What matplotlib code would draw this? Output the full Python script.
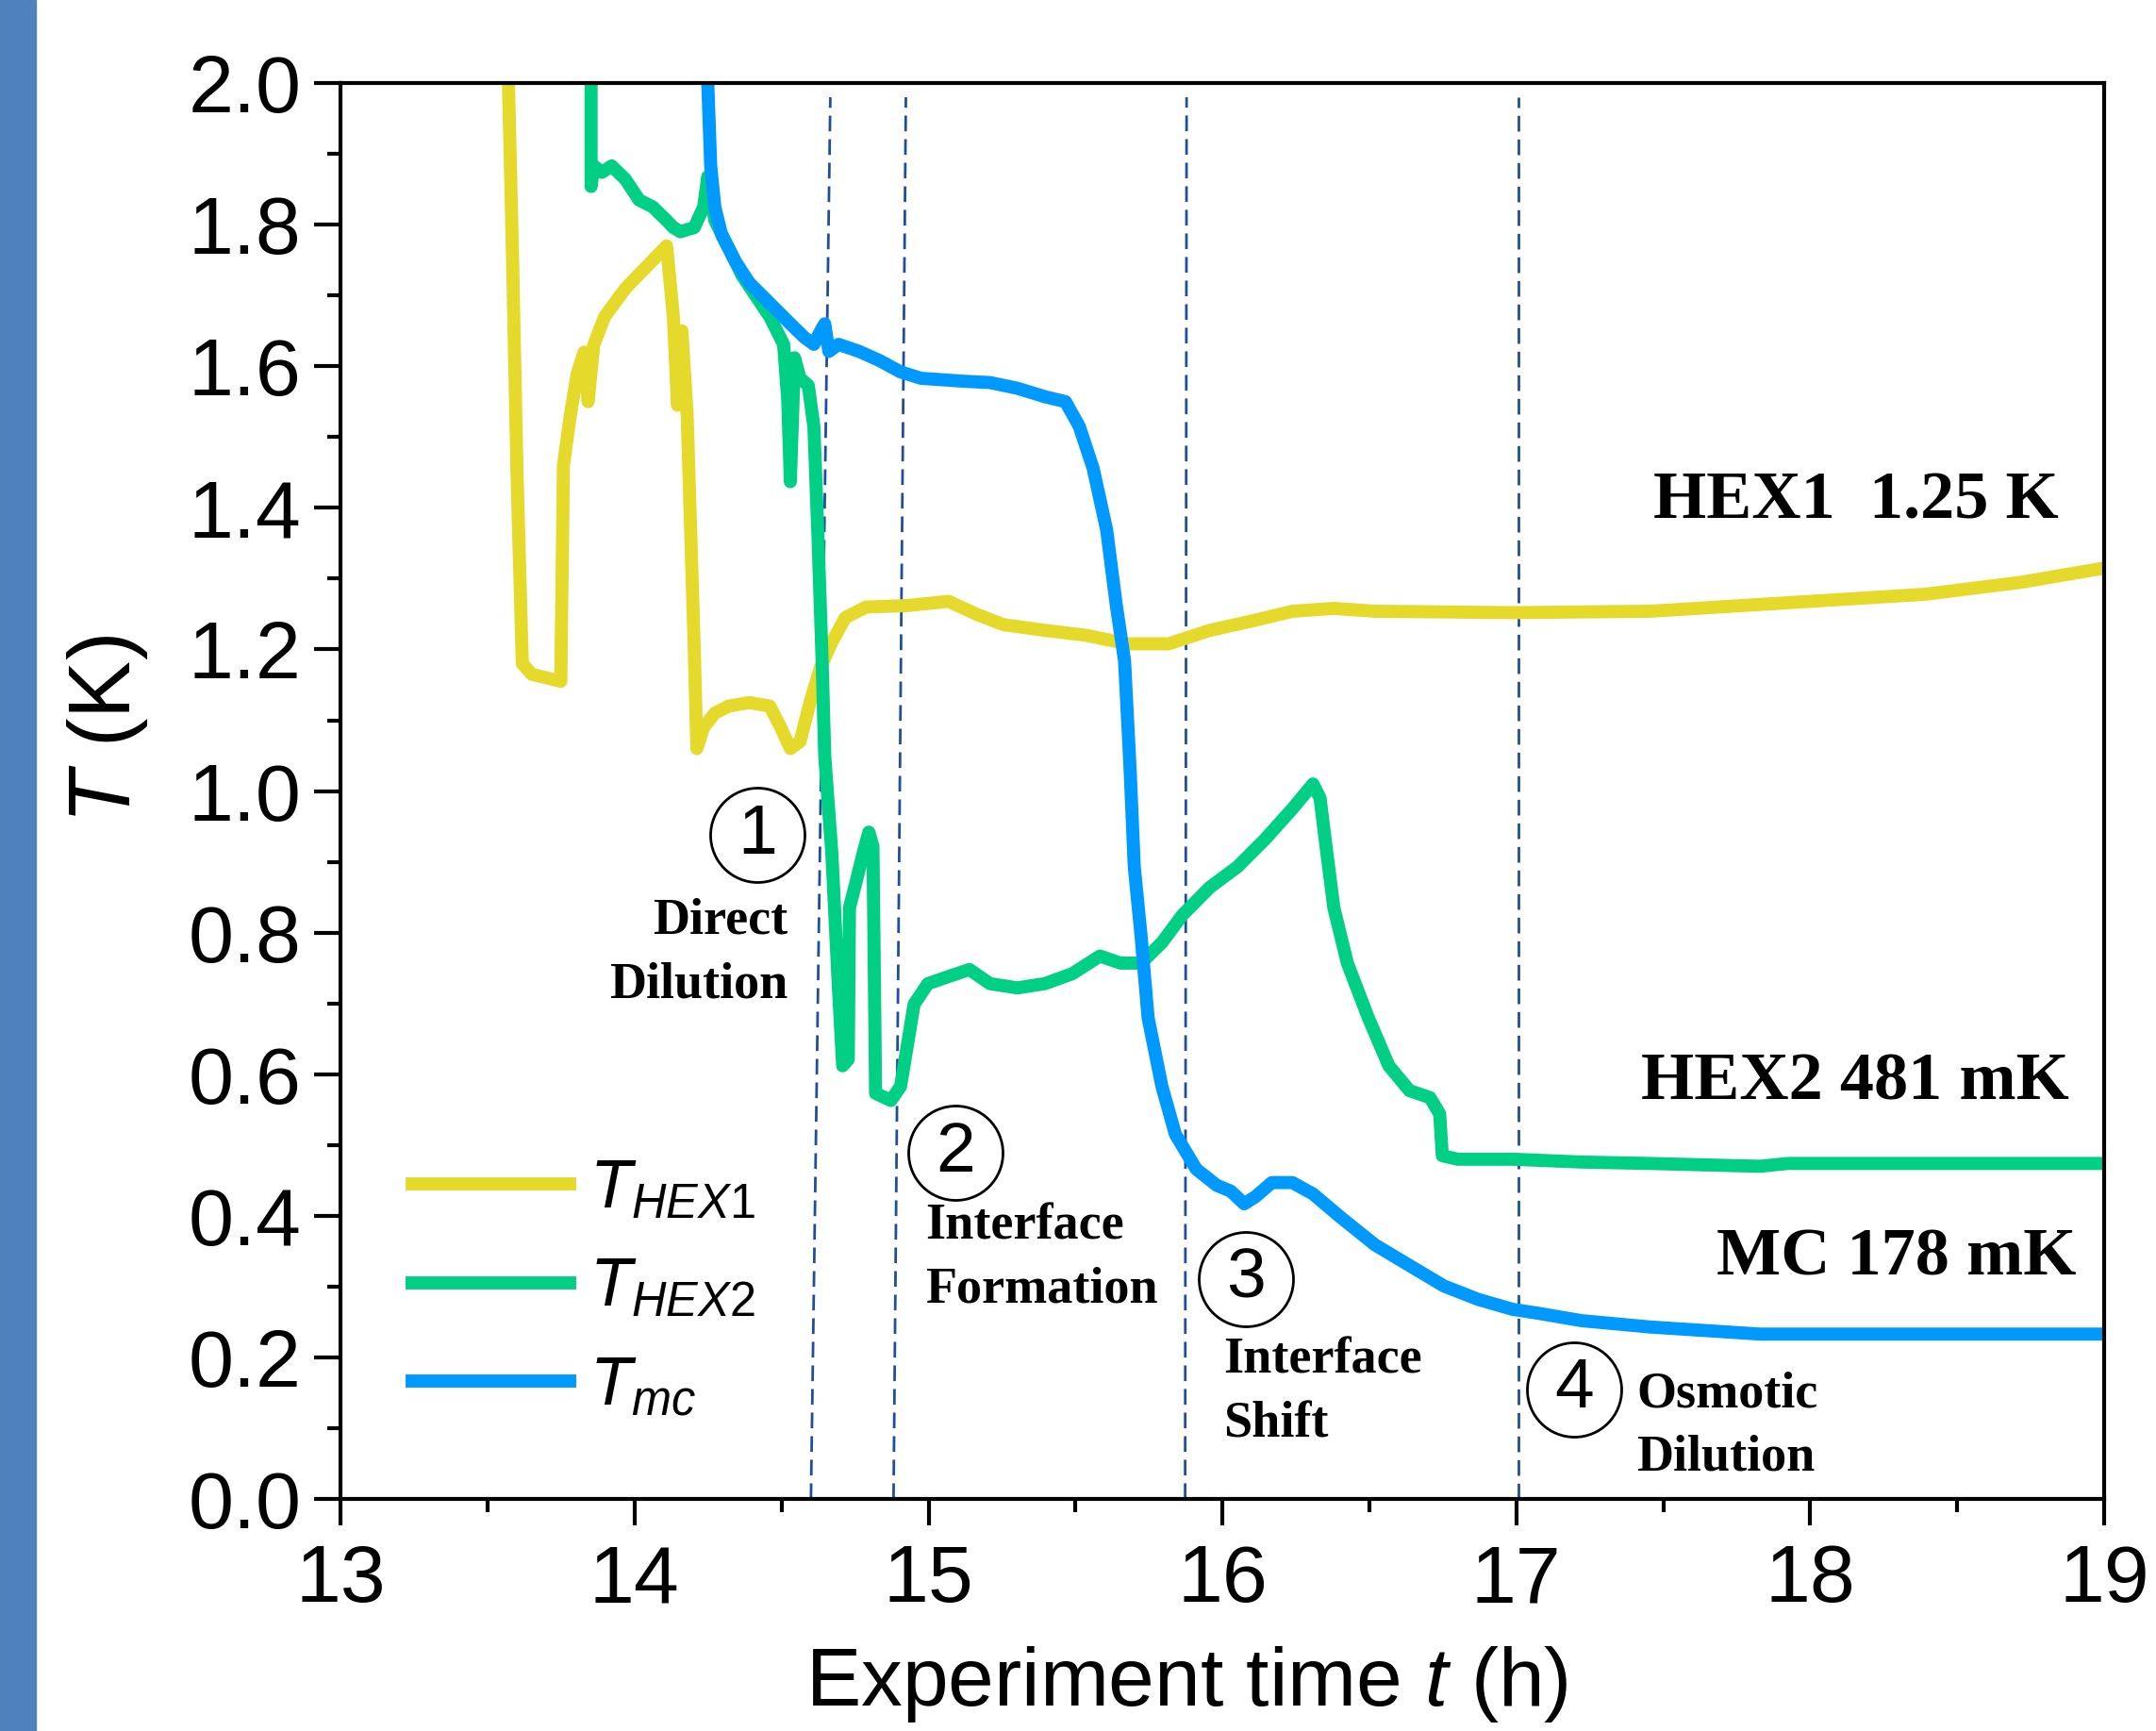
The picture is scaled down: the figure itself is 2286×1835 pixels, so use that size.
import matplotlib
matplotlib.use("Agg")
import matplotlib.pyplot as plt
from matplotlib.ticker import MultipleLocator
from matplotlib.patches import Rectangle

plt.rcParams['font.family'] = ['Liberation Sans', 'DejaVu Sans']
plt.rcParams['mathtext.fontset'] = 'custom'
plt.rcParams['mathtext.rm'] = 'Liberation Sans'
plt.rcParams['mathtext.it'] = 'Liberation Sans:italic'

# ---- data ----
t_hex1 = [13.571, 13.585, 13.60, 13.618, 13.65, 13.70, 13.749, 13.758, 13.781, 13.805, 13.828,
          13.842, 13.861, 13.898, 13.969, 14.039, 14.109, 14.132, 14.146, 14.161, 14.179, 14.203,
          14.212, 14.235, 14.273, 14.32, 14.39, 14.46, 14.497, 14.53, 14.563, 14.60, 14.633,
          14.671, 14.717, 14.788, 14.928, 15.068, 15.162, 15.255, 15.396, 15.536, 15.677,
          15.817, 15.957, 16.098, 16.238, 16.379, 16.519, 16.987, 17.455, 17.923, 18.391,
          18.718, 19.0]
T_hex1 = [2.0, 1.75, 1.45, 1.18, 1.165, 1.16, 1.155, 1.46, 1.53, 1.59, 1.62,
          1.55, 1.63, 1.67, 1.71, 1.74, 1.77, 1.67, 1.545, 1.65, 1.53, 1.20,
          1.06, 1.09, 1.11, 1.12, 1.125, 1.12, 1.09, 1.06, 1.07, 1.13, 1.175,
          1.21, 1.245, 1.26, 1.262, 1.268, 1.25, 1.235, 1.227, 1.22, 1.208,
          1.208, 1.227, 1.24, 1.254, 1.258, 1.254, 1.252, 1.254, 1.266, 1.278,
          1.295, 1.315]

t_hex2 = [13.852, 13.852, 13.861, 13.889, 13.922, 13.969, 14.015, 14.062, 14.109, 14.132, 14.156,
          14.203, 14.235, 14.249, 14.273, 14.320, 14.366, 14.413, 14.460, 14.507, 14.521, 14.530,
          14.544, 14.563, 14.591, 14.610, 14.624, 14.638, 14.647, 14.671, 14.694, 14.708,
          14.727, 14.731, 14.755, 14.778, 14.797, 14.811, 14.820, 14.872, 14.905, 14.928,
          14.951, 14.998, 15.068, 15.139, 15.209, 15.302, 15.396, 15.489, 15.583, 15.653,
          15.723, 15.794, 15.864, 15.957, 16.051, 16.145, 16.238, 16.308, 16.332, 16.355,
          16.379, 16.425, 16.496, 16.566, 16.636, 16.706, 16.739, 16.748, 16.800, 16.987,
          17.221, 17.455, 17.829, 17.923, 18.391, 19.0]
T_hex2 = [2.0, 1.854, 1.883, 1.874, 1.883, 1.864, 1.835, 1.825, 1.806, 1.796, 1.790,
          1.796, 1.825, 1.868, 1.806, 1.767, 1.728, 1.699, 1.670, 1.631, 1.553, 1.437,
          1.612, 1.583, 1.573, 1.515, 1.359, 1.184, 1.049, 0.913, 0.718, 0.612,
          0.621, 0.835, 0.874, 0.913, 0.942, 0.922, 0.573, 0.563, 0.583, 0.641,
          0.699, 0.728, 0.738, 0.748, 0.728, 0.722, 0.728, 0.742, 0.767, 0.757,
          0.757, 0.786, 0.825, 0.864, 0.893, 0.932, 0.975, 1.010, 0.990, 0.913,
          0.835, 0.757, 0.680, 0.612, 0.577, 0.567, 0.544, 0.485, 0.480, 0.480,
          0.476, 0.474, 0.470, 0.474, 0.474, 0.474]

t_mc = [14.249, 14.259, 14.273, 14.296, 14.343, 14.390, 14.460, 14.530, 14.577, 14.610, 14.633,
        14.647, 14.661, 14.694, 14.764, 14.834, 14.905, 14.975, 15.115, 15.209, 15.302,
        15.396, 15.466, 15.513, 15.560, 15.606, 15.639, 15.667, 15.686, 15.700, 15.723,
        15.747, 15.794, 15.840, 15.911, 15.981, 16.028, 16.074, 16.112, 16.168, 16.238,
        16.308, 16.402, 16.519, 16.636, 16.753, 16.870, 16.987, 17.080, 17.221, 17.455,
        17.829, 18.391, 19.0]
T_mc = [2.0, 1.883, 1.825, 1.786, 1.748, 1.718, 1.689, 1.660, 1.641, 1.631, 1.650,
        1.660, 1.621, 1.631, 1.621, 1.608, 1.592, 1.583, 1.579, 1.577, 1.569,
        1.557, 1.550, 1.515, 1.456, 1.369, 1.262, 1.184, 1.029, 0.893, 0.796,
        0.680, 0.583, 0.515, 0.466, 0.443, 0.435, 0.417, 0.427, 0.447, 0.447,
        0.431, 0.398, 0.359, 0.330, 0.301, 0.282, 0.268, 0.262, 0.252, 0.243,
        0.233, 0.233, 0.233]

# dashed stage boundaries (bottom x, top x)
stage_bottom = [14.60, 14.881, 15.873, 17.006]
stage_top = [14.666, 14.923, 15.878, 17.006]

# circled stage numbers and their descriptions
num_labels = ["1", "2", "3", "4"]
num_x = [14.418, 15.092, 16.079, 17.197]
num_y = [0.938, 0.489, 0.311, 0.155]
desc_labels = ["Direct\nDilution", "Interface\nFormation", "Interface\nShift", "Osmotic\nDilution"]
desc_x = [14.521, 14.989, 16.004, 17.408]
desc_y = [0.771, 0.340, 0.150, 0.103]
desc_ha = ["right", "left", "left", "left"]

end_labels = ["HEX1  1.25 K", "HEX2 481 mK", "MC 178 mK"]
end_x = [18.845, 18.882, 18.906]
end_y = [1.408, 0.588, 0.340]

fig = plt.figure(figsize=(22.86, 18.35), dpi=100)
fig.patches.append(Rectangle((0, 0), 0.0165, 1, transform=fig.transFigure,
                             color="#4f81bd", zorder=-1))
ax = fig.add_axes([0.158, 0.134, 0.818, 0.818])

ax.plot(t_hex1, T_hex1, color="#e5da2c", lw=10, label="$T_{HEX1}$", solid_joinstyle="round")
ax.plot(t_hex2, T_hex2, color="#00cf85", lw=10, label="$T_{HEX2}$", solid_joinstyle="round")
ax.plot(t_mc, T_mc, color="#0099ff", lw=10, label="$T_{mc}$", solid_joinstyle="round")

for xb, xt in zip(stage_bottom, stage_top):
    ax.plot([xb, xt], [0, 1.98], color="#1f4e9c", lw=2, ls=(0, (6, 3)), zorder=1)

for lab, x, y in zip(num_labels, num_x, num_y):
    ax.plot(x, y, "o", ms=72, mfc="none", mec="black", mew=2)
    ax.text(x, y, lab, ha="center", va="center", fontsize=54)

for lab, x, y, ha in zip(desc_labels, desc_x, desc_y, desc_ha):
    ax.text(x, y, lab, ha=ha, va="center", multialignment=ha, fontsize=39,
            family="Liberation Serif", weight="bold", linespacing=1.45)

for lab, x, y in zip(end_labels, end_x, end_y):
    ax.text(x, y, lab, ha="right", va="center", fontsize=52,
            family="Liberation Serif", weight="bold")

ax.set_xlim(13, 19)
ax.set_ylim(0, 2.0)
ax.xaxis.set_major_locator(MultipleLocator(1))
ax.xaxis.set_minor_locator(MultipleLocator(0.5))
ax.yaxis.set_minor_locator(MultipleLocator(0.1))
ax.set_yticks([0, 0.2, 0.4, 0.6, 0.8, 1.0, 1.2, 1.4, 1.6, 1.8, 2.0])
ax.set_yticklabels(["%.1f" % v for v in ax.get_yticks()])
ax.tick_params(which="major", direction="out", length=20, width=3, labelsize=62)
ax.tick_params(axis="x", which="major", pad=14)
ax.tick_params(axis="y", which="major", pad=10)
ax.tick_params(which="minor", direction="out", length=10, width=3)
ax.tick_params(top=False, right=False, which="both")
for s in ax.spines.values():
    s.set_linewidth(3)

ax.set_xlabel("Experiment time $t$ (h)", fontsize=63, va="center")
ax.set_ylabel("$T$ (K)", fontsize=66)
ax.xaxis.set_label_coords(0.48, -0.131)
ax.yaxis.set_label_coords(-0.108, 0.544)

ax.legend(loc="lower left", bbox_to_anchor=(0.006, 0.013), frameon=False, fontsize=52,
          handlelength=2.3, handletextpad=0.3, labelspacing=0.52)

fig.savefig("out.png", dpi=100)
